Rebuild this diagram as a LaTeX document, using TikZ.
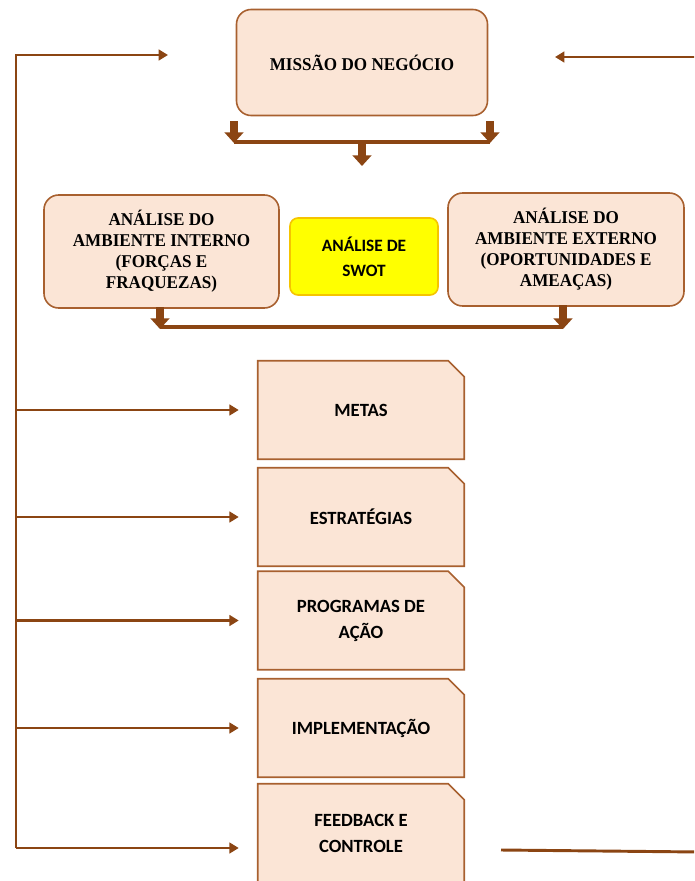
\documentclass[tikz,border=0pt]{standalone}
\usepackage{fontspec}
\setmainfont{Liberation Serif}
\newfontfamily\serb[FakeStretch=0.95]{Liberation Serif}
\newfontfamily\sanb{Carlito}
\usetikzlibrary{arrows.meta,calc,backgrounds}
\definecolor{peach}{HTML}{FBE5D6}
\definecolor{bord}{HTML}{A8602F}
\definecolor{brn}{HTML}{8B4513}
\definecolor{ylw}{HTML}{FFFF00}
\definecolor{ylwb}{HTML}{F5C400}
\newcommand\snipshape[1]{\path[snip] (#1.south west) -- (#1.north west) -- ($(#1.north east)+(-16,0)$) -- ($(#1.north east)+(0,16)$) -- (#1.south east) -- cycle;}
\begin{document}
\begin{tikzpicture}[x=0.75pt,y=-0.75pt,
 topbox/.style={draw=bord, fill=peach, line width=1.2pt, rounded corners=11pt, inner sep=0pt},
 swotbox/.style={draw=ylwb, fill=ylw, line width=1.2pt, rounded corners=6pt, inner sep=0pt},
 sertext/.style={font=\serb\bfseries\fontsize{13.5}{15.75}\selectfont, align=center},
 santext/.style={font=\sanb\bfseries\fontsize{13}{18.5}\selectfont, align=center},
 steptext/.style={font=\sanb\bfseries\fontsize{14}{19.5}\selectfont, align=center},
 conn/.style={draw=brn, line width=2.2pt, line join=miter, -{Triangle[length=7pt,width=8pt]}},
 plain/.style={draw=brn, line width=2.2pt},
 blk/.style={draw=brn, line width=6pt, -{Triangle[length=8pt,width=14pt]}},
 bar/.style={draw=brn, line width=3pt},
 stepbox/.style={draw=none, minimum width=154.5pt, minimum height=73.5pt, inner sep=0pt},
 snip/.style={draw=bord, fill=peach, line width=1.2pt}]
\clip (0,0) rectangle (694,881);

% top boxes
\node[topbox, sertext, minimum width=188.25pt, minimum height=79.5pt] (missao) at (362,62.5) {MISSÃO DO NEGÓCIO};
\node[topbox, sertext, minimum width=176.25pt, minimum height=84.75pt] (intern) at (161.5,251.5) {ANÁLISE DO\\AMBIENTE INTERNO\\(FORÇAS E\\FRAQUEZAS)};
\node[swotbox, santext, minimum width=111pt, minimum height=57.75pt] (swot) at (364,256.5) {ANÁLISE DE\\SWOT};
\node[topbox, sertext, minimum width=177pt, minimum height=84.75pt] (extern) at (566,249.5) {ANÁLISE DO\\AMBIENTE EXTERNO\\(OPORTUNIDADES E\\AMEAÇAS)};

% step boxes
\node[stepbox, steptext] (metas) at (361,410) {METAS};
\node[stepbox, steptext] (estrat) at (361,517) {ESTRATÉGIAS};
\node[stepbox, steptext] (prog) at (361,620.5) {PROGRAMAS DE\\AÇÃO};
\node[stepbox, steptext] (impl) at (361,728) {IMPLEMENTAÇÃO};
\node[stepbox, steptext] (feed) at (361,833) {FEEDBACK E\\CONTROLE};
\begin{pgfonlayer}{background}
\snipshape{metas}
\snipshape{estrat}
\snipshape{prog}
\snipshape{impl}
\snipshape{feed}
\end{pgfonlayer}

% block arrows under mission
\coordinate (mL1) at (234,121); \coordinate (mL2) at (234,143);
\coordinate (mR1) at (490,121); \coordinate (mR2) at (490,143);
\coordinate (mC1) at (362,142); \coordinate (mC2) at (362,166);
\draw[bar] (234,142) -- (490,142);
\draw[blk] (mL1) -- (mL2);
\draw[blk] (mR1) -- (mR2);
\draw[blk] (mC1) -- (mC2);

% block arrows under analysis boxes
\coordinate (aL1) at (160,307); \coordinate (aL2) at (160,329);
\coordinate (aR1) at (563,305); \coordinate (aR2) at (563,329);
\draw[bar] (160,327) -- (563,327);
\draw[blk] (aL1) -- (aL2);
\draw[blk] (aR1) -- (aR2);

% feedback spine
\coordinate (spTop) at (16,55);
\coordinate (spBot) at (16,848);
\coordinate (topL) at (168,55);
\draw[conn] (spBot) -- (spTop) -- (topL);
\draw[conn] (metas.west -| spTop) -- ($(metas.west)+(-19,0)$);
\draw[conn] (estrat.west -| spTop) -- ($(estrat.west)+(-19,0)$);
\draw[conn] (prog.west -| spTop) -- ($(prog.west)+(-19,0)$);
\draw[conn] (impl.west -| spTop) -- ($(impl.west)+(-19,0)$);
\draw[conn] (spBot) -- ($(spBot -| feed.west)+(-19,0)$);

% right side lines
\coordinate (rTop) at (700,57);
\coordinate (rTip) at (555,57);
\draw[conn] (rTop) -- (rTip);
\coordinate (rb1) at (501,850);
\coordinate (rb2) at (700,852);
\draw[plain] (rb1) -- (rb2);
\end{tikzpicture}
\end{document}
